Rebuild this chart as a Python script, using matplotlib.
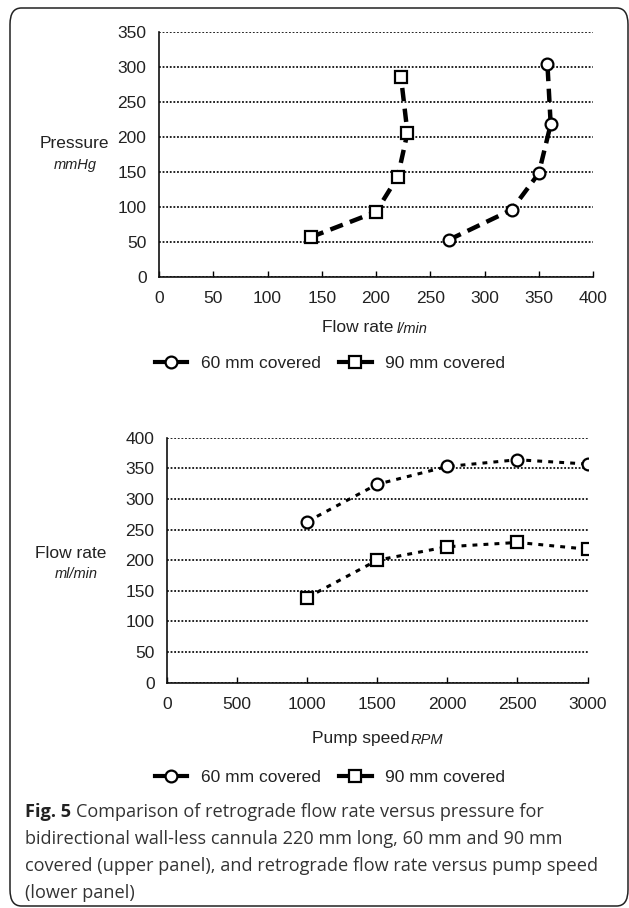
import matplotlib
matplotlib.use("Agg")
import matplotlib.pyplot as plt
from matplotlib.lines import Line2D
from matplotlib.patches import FancyBboxPatch

# ---------------- data ----------------
# Upper panel: pressure (mmHg) vs flow rate (l/min)
p_flow_60 = [267, 325, 350, 361, 358]
p_pres_60 = [53, 96, 148, 218, 304]
p_flow_90 = [140, 200, 220, 229, 223]
p_pres_90 = [57, 93, 143, 206, 286]
top_xticks = [0, 50, 100, 150, 200, 250, 300, 350, 400]
top_yticks = [0, 50, 100, 150, 200, 250, 300, 350]

# Lower panel: flow rate (ml/min) vs pump speed (RPM)
speed = [1000, 1500, 2000, 2500, 3000]
s_flow_60 = [263, 324, 353, 364, 357]
s_flow_90 = [139, 200, 222, 229, 218]
bot_xticks = [0, 500, 1000, 1500, 2000, 2500, 3000]
bot_yticks = [0, 50, 100, 150, 200, 250, 300, 350, 400]

series_labels = ["60 mm covered", "90 mm covered"]
caption_lines = [
    "Comparison of retrograde flow rate versus pressure for",
    "bidirectional wall-less cannula 220 mm long, 60 mm and 90 mm",
    "covered (upper panel), and retrograde flow rate versus pump speed",
    "(lower panel)",
]

# ---------------- figure ----------------
W, H = 629, 908
fig = plt.figure(figsize=(W / 100, H / 100), dpi=100)
fig.patch.set_facecolor("white")
FONT = "Liberation Sans"
FS = 12.5


def fx(px):
    return px / W


def fy(py):
    return 1 - py / H


def style_axes(ax):
    for s in ("top", "right"):
        ax.spines[s].set_visible(False)
    for s in ("left", "bottom"):
        ax.spines[s].set_linewidth(1.2)
        ax.spines[s].set_color("#111111")
    ax.yaxis.grid(True, color="#111111", linestyle=(0, (1, 1)), linewidth=1.3)
    ax.xaxis.grid(False)
    ax.set_axisbelow(True)
    ax.tick_params(axis="y", length=0, pad=9, labelsize=FS, labelcolor="#222222")
    ax.tick_params(axis="x", direction="in", length=4, width=1.0, pad=10,
                   labelsize=FS, labelcolor="#222222")
    for lab in ax.get_xticklabels() + ax.get_yticklabels():
        lab.set_fontfamily(FONT)


# upper axes: x 159..593, y 32..277 px
ax1 = fig.add_axes([fx(159), fy(277), fx(593) - fx(159), fy(32) - fy(277)])
ax1.set_xlim(0, 400)
ax1.set_ylim(0, 350)
ax1.set_xticks(top_xticks)
ax1.set_yticks(top_yticks)
style_axes(ax1)
heavy = dict(color="black", linewidth=3.2, linestyle=(0, (3.0, 1.7)),
             dash_capstyle="butt", zorder=3)
ax1.plot(p_flow_60, p_pres_60, **heavy)
ax1.plot(p_flow_90, p_pres_90, **heavy)
ax1.plot(p_flow_60, p_pres_60, linestyle="none", marker="o", markersize=8.5,
         markerfacecolor="white", markeredgecolor="black", markeredgewidth=1.6, zorder=4)
ax1.plot(p_flow_90, p_pres_90, linestyle="none", marker="s", markersize=8.5,
         markerfacecolor="white", markeredgecolor="black", markeredgewidth=1.6, zorder=4)

# lower axes: x 167..587.5, y 437.7..682.7 px
ax2 = fig.add_axes([fx(167), fy(682.7), fx(587.5) - fx(167), fy(437.7) - fy(682.7)])
ax2.set_xlim(0, 3000)
ax2.set_ylim(0, 400)
ax2.set_xticks(bot_xticks)
ax2.set_yticks(bot_yticks)
style_axes(ax2)
light = dict(color="black", linewidth=2.2, linestyle=(0, (1.6, 2.0)),
             dash_capstyle="butt", zorder=3)
ax2.plot(speed, s_flow_60, **light)
ax2.plot(speed, s_flow_90, **light)
ax2.plot(speed, s_flow_60, linestyle="none", marker="o", markersize=8.5,
         markerfacecolor="white", markeredgecolor="black", markeredgewidth=1.6, zorder=4)
ax2.plot(speed, s_flow_90, linestyle="none", marker="s", markersize=8.5,
         markerfacecolor="white", markeredgecolor="black", markeredgewidth=1.6, zorder=4)

# ---------------- axis titles ----------------
tc = "#222222"
fig.text(fx(74), fy(144), "Pressure", ha="center", va="center", fontsize=FS,
         family=FONT, color=tc)
fig.text(fx(75), fy(165), "mmHg", ha="center", va="center", fontsize=10.5,
         family=FONT, style="italic", color=tc)
fig.text(fx(393), fy(328), "Flow rate", ha="right", va="center", fontsize=FS,
         family=FONT, color=tc)
fig.text(fx(397), fy(329), "l/min", ha="left", va="center", fontsize=10.5,
         family=FONT, style="italic", color=tc)

fig.text(fx(71), fy(553), "Flow rate", ha="center", va="center", fontsize=FS,
         family=FONT, color=tc)
fig.text(fx(76), fy(574), "ml/min", ha="center", va="center", fontsize=10.5,
         family=FONT, style="italic", color=tc)
fig.text(fx(410), fy(739), "Pump speed", ha="right", va="center", fontsize=FS,
         family=FONT, color=tc)
fig.text(fx(411), fy(740), "RPM", ha="left", va="center", fontsize=10.5,
         family=FONT, style="italic", color=tc)

# ---------------- legends ----------------
handles = [
    Line2D([], [], color="black", linewidth=3, marker="o", markersize=8.5,
           markerfacecolor="white", markeredgecolor="black", markeredgewidth=1.6),
    Line2D([], [], color="black", linewidth=3, marker="s", markersize=8.5,
           markerfacecolor="white", markeredgecolor="black", markeredgewidth=1.6),
]
for ypx in (363, 777):
    leg = fig.legend(handles, series_labels, loc="center",
                     bbox_to_anchor=(fx(330), fy(ypx)), ncol=2, frameon=False,
                     handlelength=1.9, handletextpad=0.8, columnspacing=1.0,
                     prop={"family": FONT, "size": FS})
    for t in leg.get_texts():
        t.set_color(tc)

# ---------------- caption ----------------
CAP_FONT = "Open Sans"
CFS = 13.1
base0 = 817
pitch = 27
t0 = fig.text(fx(25), fy(base0), "Fig. 5", ha="left", va="baseline",
              fontsize=CFS, family=CAP_FONT, weight="bold", color="#222222")
fig.canvas.draw()
bb = t0.get_window_extent()
x_after = bb.x1 / W + 5 / W
fig.text(x_after, fy(base0), caption_lines[0], ha="left", va="baseline",
         fontsize=CFS, family=CAP_FONT, color="#333333")
for i, line in enumerate(caption_lines[1:], start=1):
    fig.text(fx(25), fy(base0 + pitch * i), line, ha="left", va="baseline",
             fontsize=CFS, family=CAP_FONT, color="#333333")

# ---------------- frame ----------------
frame = FancyBboxPatch((fx(10), fy(906)), fx(628) - fx(10), fy(8) - fy(906),
                       boxstyle="round,pad=0,rounding_size=0.018",
                       transform=fig.transFigure, fill=False,
                       edgecolor="#222222", linewidth=1.1)
fig.patches.append(frame)

fig.savefig("out.png", dpi=100, facecolor="white")
